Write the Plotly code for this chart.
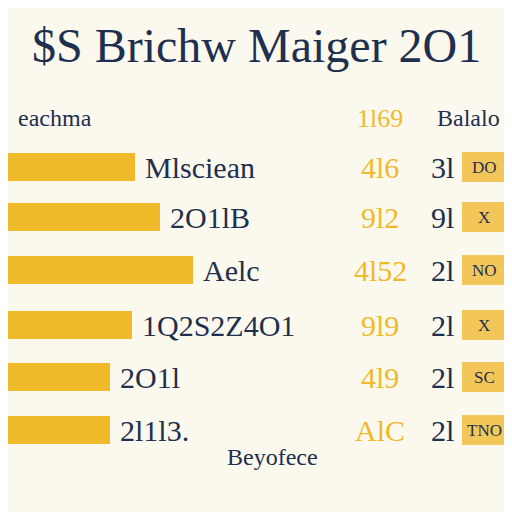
import plotly.graph_objects as go

title = "$S Brichw Maiger 2O1"
left_header = "eachma"
right_header = "Balalo"
footer = "Beyofece"

bar_values = [135, 160, 193, 132, 110, 110]
bar_labels = ["Mlsciean", "2O1lB", "Aelc", "1Q2S2Z4O1", "2O1l", "2l1l3."]
gold_numbers = ["4l6", "9l2", "4l52", "9l9", "4l9", "AlC"]
right_numbers = ["3l", "9l", "2l", "2l", "2l", "2l"]
box_texts = ["DO", "X", "NO", "X", "SC", "TNO"]
rows = [167, 217, 270, 325, 377, 430]

navy = "#1f2f4f"
gold = "#f0b92a"

fig = go.Figure()
fig.add_trace(go.Bar(
    y=rows, x=[v + 10 for v in bar_values], base=-10, orientation="h", width=28,
    marker=dict(color=gold, line=dict(width=0)), showlegend=False,
))
fig.add_trace(go.Bar(
    y=rows, x=[42] * len(rows), base=462, orientation="h", width=30,
    marker=dict(color="#f3c65a", line=dict(width=0)), showlegend=False,
))

serif = "Liberation Serif"
ann = [
    dict(x=256, y=45, text=title, font=dict(size=48, color=navy, family=serif)),
    dict(x=55, y=118, text=left_header, font=dict(size=24, color=navy, family=serif)),
    dict(x=380, y=118, text="1l69", font=dict(size=26, color=gold, family=serif)),
    dict(x=468, y=118, text=right_header, font=dict(size=24, color=navy, family=serif)),
    dict(x=272, y=457, text=footer, font=dict(size=24, color=navy, family=serif)),
]
for yv, bv, lab, g, r, b in zip(rows, bar_values, bar_labels, gold_numbers, right_numbers, box_texts):
    ann.append(dict(x=bv + 8, y=yv, text=lab, xanchor="left",
                    font=dict(size=30, color=navy, family=serif)))
    ann.append(dict(x=380, y=yv, text=g, font=dict(size=30, color=gold, family=serif)))
    ann.append(dict(x=442, y=yv, text=r, font=dict(size=30, color=navy, family=serif)))
    ann.append(dict(x=484, y=yv, text=b, font=dict(size=17, color=navy, family=serif)))
for a in ann:
    a.update(xref="x", yref="y", showarrow=False)

# page body has an 8px margin, shift the ranges so data coords equal screen pixels
fig.update_layout(
    width=512, height=512, margin=dict(l=0, r=0, t=0, b=0),
    paper_bgcolor="#fbf9ee", plot_bgcolor="#fbf9ee",
    xaxis=dict(range=[8, 520], visible=False, fixedrange=True),
    yaxis=dict(range=[520, 8], visible=False, fixedrange=True),
    annotations=ann, bargap=0, barmode="overlay",
)
fig.write_html("out.html")
